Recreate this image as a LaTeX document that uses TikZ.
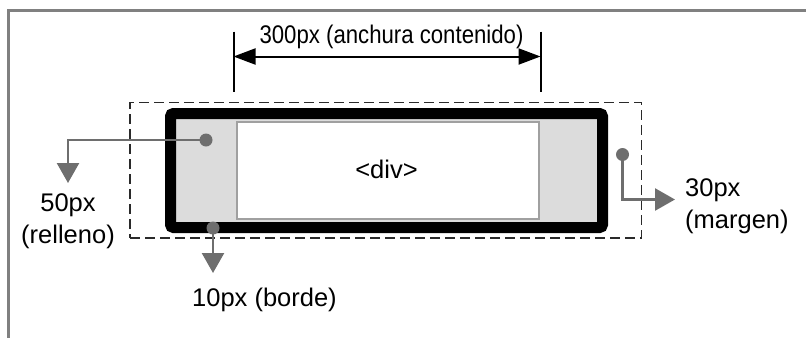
\documentclass[tikz,border=0pt]{standalone}
\usepackage{fontspec}
\setmainfont{Liberation Sans}
\newfontfamily\narrowfont[FakeStretch=0.87]{Liberation Sans}
\usetikzlibrary{arrows.meta}
\definecolor{callgray}{HTML}{6E6E6E}
\definecolor{padgray}{HTML}{DCDCDC}
\definecolor{framegray}{HTML}{808080}
\definecolor{boxline}{HTML}{A0A0A0}
\definecolor{dashcol}{HTML}{2A2A2A}
\begin{document}
\begin{tikzpicture}[x=1pt,y=-1pt,
  every node/.style={font=\fontsize{25.5}{30}\selectfont},
  lbl/.style={inner sep=0pt},
  dot/.style={circle, fill=callgray, inner sep=0pt, minimum size=13pt},
  callout/.style={draw=callgray, line width=2.5pt, -{Triangle[width=22pt,length=20pt]}},
  dimline/.style={draw=black, line width=2pt},
  dimarrow/.style={draw=black, line width=2pt, {Triangle[width=16pt,length=22pt]}-{Triangle[width=16pt,length=22pt]}},
  frameline/.style={draw=framegray, line width=3pt},
  marginbox/.style={draw=dashcol, line width=1.5pt, dash pattern=on 10pt off 5pt, minimum width=511.5pt, minimum height=135.5pt, inner sep=0pt},
  borderbox/.style={draw=black, fill=padgray, line width=11pt, rounded corners=3pt, minimum width=432pt, minimum height=114pt, inner sep=0pt},
  contentbox/.style={draw=boxline, fill=white, line width=2pt, minimum width=302.5pt, minimum height=97pt, inner sep=0pt},
]
\useasboundingbox (0,0) rectangle (806,338);
% outer frame
\draw[frameline] (806,10) -- (8.5,10) -- (8.5,338);

% boxes
\node[marginbox] (margin) at (385.75,170.25) {};
\node[borderbox] (border) at (386.5,170.5) {};
\node[contentbox] (content) at (387.75,170) {};
\node[lbl, anchor=base] (divtxt) at (386.5,178.5) {<div>};

% dimension of content width
\coordinate (dlt) at (233.5,31.5);
\coordinate (dlb) at (233.5,92);
\coordinate (drt) at (540.5,31.5);
\coordinate (drb) at (540.5,92);
\coordinate (dl) at (233.5,56.5);
\coordinate (dr) at (540.5,56.5);
\draw[dimline] (dlt) -- (dlb);
\draw[dimline] (drt) -- (drb);
\draw[dimarrow] (dl) -- (dr);
\node[lbl, anchor=base] (wlabel) at (391.5,43) {\narrowfont 300px (anchura contenido)};

% padding callout
\node[dot] (pdot) at (206,140) {};
\coordinate (ptip) at (68,183);
\draw[callout] (pdot.center) -| (ptip);
\node[lbl, anchor=base] (pl1) at (68,211) {50px};
\node[lbl, anchor=base] (pl2) at (68,243) {(relleno)};

% border callout
\node[dot] (bdot) at (213,228) {};
\coordinate (btip) at (213,273);
\draw[callout] (bdot.center) -- (btip);
\node[lbl, anchor=base west] (bl) at (192,306) {10px (borde)};

% margin callout
\node[dot] (mdot) at (622.5,154.5) {};
\coordinate (mtip) at (675,199.5);
\draw[callout] (mdot.center) |- (mtip);
\node[lbl, anchor=base west] (ml1) at (685,196) {30px};
\node[lbl, anchor=base west] (ml2) at (685,228) {(margen)};
\end{tikzpicture}
\end{document}
